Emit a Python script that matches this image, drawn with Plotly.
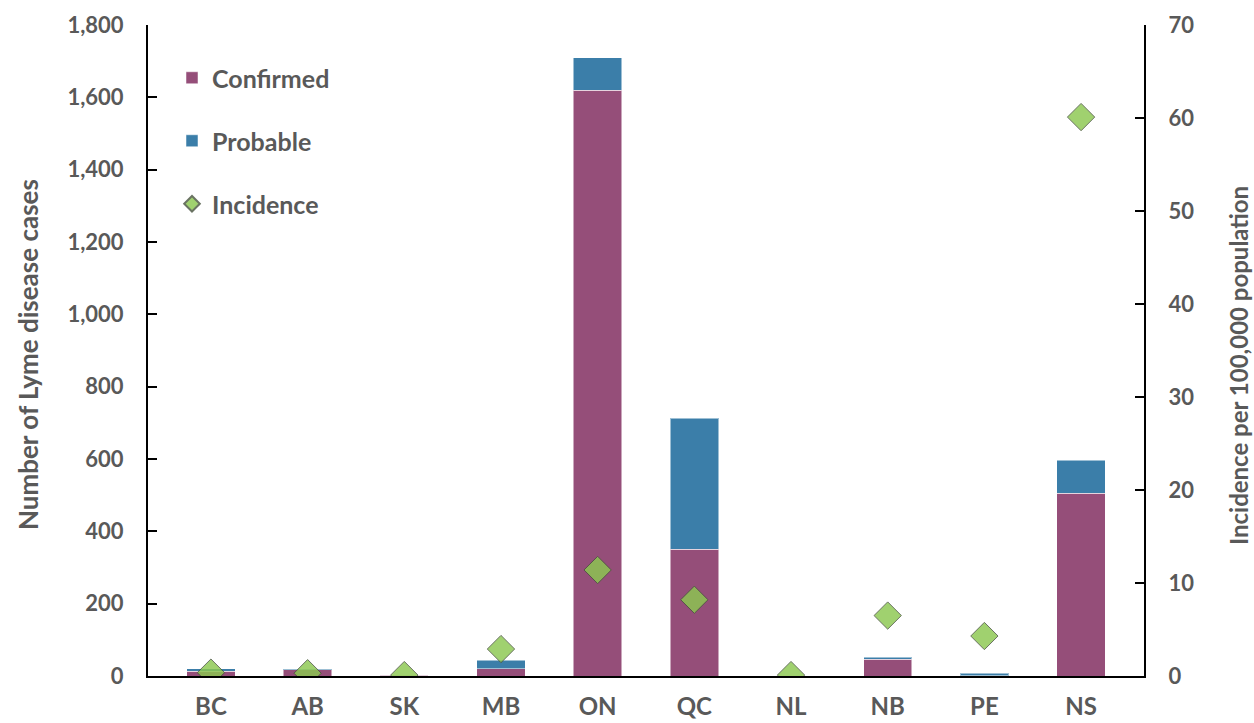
import plotly.graph_objects as go

provinces = ["BC", "AB", "SK", "MB", "ON", "QC", "NL", "NB", "PE", "NS"]
confirmed = [13, 17, 2, 20, 1620, 350, 1, 47, 1, 505]
probable = [7, 1, 0, 23, 90, 362, 0, 5, 6, 92]
incidence = [0.36, 0.3, 0.1, 2.9, 11.4, 8.2, 0.1, 6.5, 4.3, 60.1]

TXT = "#595959"
FONT = "Lato"

fig = go.Figure()
fig.add_trace(go.Bar(x=provinces, y=confirmed, name="Confirmed",
                     marker=dict(color="#954E79", line=dict(color="rgba(255,255,255,0.5)", width=1)),
                     legend="legend", showlegend=True))
fig.add_trace(go.Bar(x=provinces, y=probable, name="Probable",
                     marker=dict(color="#3B7EA9", line=dict(color="rgba(255,255,255,0.5)", width=1)),
                     legend="legend2", showlegend=True))
fig.add_trace(go.Scatter(x=provinces, y=incidence, name="Incidence", mode="markers", yaxis="y2",
                         marker=dict(symbol="diamond", size=21, color="#8CC850", opacity=0.82,
                                     line=dict(color="#4a5540", width=1)),
                         legend="legend3", showlegend=True))

W, H = 1254, 723
L, R, T, B = 148, 110, 25, 47
pw, ph = W - L - R, H - T - B

def px_x(p):
    return (p - L) / pw

def px_y(p):
    return (H - B - p) / ph

legfont = dict(family=FONT, size=25, color=TXT, weight="bold")
leg_common = dict(xanchor="left", yanchor="middle", bgcolor="rgba(0,0,0,0)", font=legfont,
                  itemclick=False, itemdoubleclick=False, visible=True)

fig.update_layout(
    width=W, height=H,
    margin=dict(l=L, r=R, t=T, b=B, autoexpand=False),
    plot_bgcolor="white", paper_bgcolor="white",
    barmode="stack", bargap=0.5,
    showlegend=True,
    font=dict(family=FONT, size=22, color=TXT),
    legend=dict(x=px_x(172), y=px_y(78), **leg_common),
    legend2=dict(x=px_x(172), y=px_y(141), **leg_common),
    legend3=dict(x=px_x(172), y=px_y(204), itemsizing="constant", **leg_common),
    xaxis=dict(showline=True, linecolor="black", linewidth=2, ticks="", showgrid=False,
               tickfont=dict(family=FONT, size=24, color=TXT, weight="bold"),
               ticklabelstandoff=8),
    yaxis=dict(range=[0, 1800], dtick=200, tickformat=",", showgrid=False, zeroline=False,
               showline=True, linecolor="black", linewidth=2, ticks="inside", ticklen=9,
               tickcolor="black", tickwidth=2,
               tickfont=dict(family=FONT, size=22, color=TXT, weight="bold"),
               ticklabelstandoff=18),
    yaxis2=dict(range=[0, 70], dtick=10, overlaying="y", side="right", showgrid=False,
                zeroline=False, showline=True, linecolor="black", linewidth=2,
                ticks="inside", ticklen=9, tickcolor="black", tickwidth=2,
                tickfont=dict(family=FONT, size=22, color=TXT, weight="bold"),
                ticklabelstandoff=18),
    annotations=[
        dict(text="<b>Number of Lyme disease cases</b>", textangle=-90, xref="paper", yref="paper",
             x=px_x(28), y=px_y(355), showarrow=False, xanchor="center", yanchor="middle",
             font=dict(family=FONT, size=26, color=TXT)),
        dict(text="<b>Incidence per 100,000 population</b>", textangle=-90, xref="paper", yref="paper",
             x=px_x(1238), y=px_y(366), showarrow=False, xanchor="center", yanchor="middle",
             font=dict(family=FONT, size=24, color=TXT)),
    ],
)

fig.write_html("out.html")
